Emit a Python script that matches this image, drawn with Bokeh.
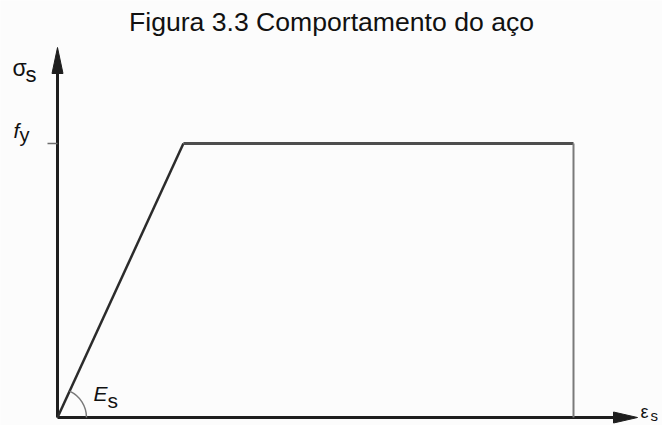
import math
from bokeh.plotting import figure
from bokeh.models import Range1d
from bokeh.core.properties import value
from bokeh.embed import file_html
from bokeh.resources import INLINE

# Idealised elastic-perfectly-plastic steel diagram (schematic units)
strain = [0.0, 2.44, 10.0]          # origin, yield strain, ultimate strain
stress = [0.0, 1.0, 1.0]            # 0, fy, fy (normalised)
drop_strain = [10.0, 10.0]          # vertical line at ultimate strain
drop_stress = [1.0, 0.0]
fy_level = [1.0]
title_text = "Figura 3.3 Comportamento do aço"

W, H = 662, 425
X0_PX, Y0_PX = 57, 417              # where the origin sits on the canvas
KX = 51.6                           # px per strain unit
KY = 274.0                          # px per stress unit

def dx(px):
    return (px - X0_PX) / KX

def dy(py):
    return (Y0_PX - py) / KY

p = figure(width=W, height=H, output_backend="svg", toolbar_location=None,
           x_range=Range1d(dx(0), dx(W)), y_range=Range1d(dy(H), dy(0)),
           min_border=0, min_border_left=0, min_border_right=0,
           min_border_top=0, min_border_bottom=0)
p.axis.visible = False
p.grid.visible = False
p.outline_line_color = None
p.background_fill_color = "#fcfcfc"
p.border_fill_color = "#fcfcfc"

# axes with arrow heads
axis_col = "#1e1e1e"
y_tip = dy(47)
x_tip = dx(637)
p.line([0, 0], [0, dy(73)], line_color=axis_col, line_width=3)
p.line([0, dx(615)], [0, 0], line_color=axis_col, line_width=3)
p.patch([0, dx(X0_PX - 5.5), dx(X0_PX + 5.5)], [y_tip, dy(73), dy(73)],
        fill_color=axis_col, line_color=axis_col, line_width=1)
p.patch([x_tip, dx(613), dx(613)], [0, dy(Y0_PX - 5.5), dy(Y0_PX + 5.5)],
        fill_color=axis_col, line_color=axis_col, line_width=1)

# tick at fy
p.line([dx(47), 0], [fy_level[0], fy_level[0]], line_color="#6e6e6e", line_width=1.5)

# stress-strain curve
p.line(strain[:2], stress[:2], line_color="#2b2b2b", line_width=2.5)
p.line(strain[1:], stress[1:], line_color="#4d4d4d", line_width=3)
p.line(drop_strain, drop_stress, line_color="#7a7a7a", line_width=2)

# angle arc for the elastic modulus
ang = math.atan2(stress[1] * KY, strain[1] * KX)
p.arc(x=[0], y=[0], radius=29, radius_units="screen", start_angle=0,
      end_angle=ang, line_color="#7a7a7a", line_width=1.5)

font = value("Liberation Sans")

def label(txt, left, base, size, style="normal", align="left",
          baseline="alphabetic", color="#111111"):
    p.text(x=[dx(left)], y=[dy(base)], text=[txt], text_font=font,
           text_font_size=f"{size}px", text_font_style=style,
           text_align=align, text_baseline=baseline, text_color=color)

label(title_text, 331, 21, 26.6, align="center")
label("σ", 12, 67, 23)
label("s", 25, 74, 22)
label("f", 13, 130, 21, style="italic")
label("y", 19, 134, 20)
label("E", 93, 393, 21, style="italic")
label("s", 107, 400, 21)
label("ε", 640, 421, 18, baseline="bottom")
label("s", 650, 423, 15, baseline="bottom")

open("out.html", "w").write(file_html(p, INLINE))
